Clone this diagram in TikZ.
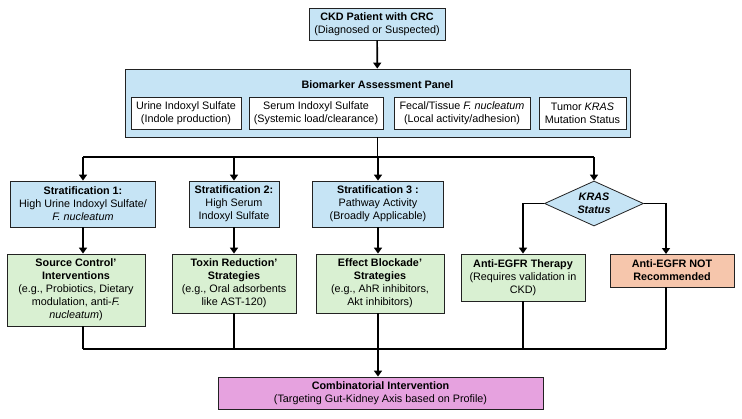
\documentclass[tikz,border=0pt]{standalone}
\usepackage{fontspec}
\setmainfont{Liberation Sans}
\usetikzlibrary{arrows.meta,shapes.geometric}
\definecolor{bluef}{HTML}{C6E4F5}
\definecolor{greenf}{HTML}{D9F0D2}
\definecolor{salmonf}{HTML}{F6C6AC}
\definecolor{pinkf}{HTML}{E6A2DF}
\definecolor{edge}{HTML}{222222}
\begin{document}
\begin{tikzpicture}[x=1pt,y=-1pt,
  box/.style={draw=edge, line width=0.8pt, align=center, inner sep=0pt,
              font=\fontsize{10.8}{13}\selectfont},
  conn/.style={line width=1.7pt, black},
  arr/.style={conn, -{Triangle[length=6pt,width=8pt]}}]
\useasboundingbox[fill=white] (0,0) rectangle (742,418);

% top
\node[box, fill=bluef, minimum width=136pt, minimum height=32pt] (top) at (377,24)
  {\textbf{CKD Patient with CRC}\\(Diagnosed or Suspected)};

% panel
\node[box, fill=bluef, minimum width=505pt, minimum height=68pt] (panel) at (377.5,103) {};
\node[font=\fontsize{10.8}{13}\selectfont\bfseries, inner sep=0pt] (ptitle) at (377.5,85) {Biomarker Assessment Panel};
\node[box, fill=white, minimum width=110pt, minimum height=32pt] (b1) at (186,113)
  {Urine Indoxyl Sulfate\\(Indole production)};
\node[box, fill=white, minimum width=134pt, minimum height=32pt] (b2) at (316,113)
  {Serum Indoxyl Sulfate\\(Systemic load/clearance)};
\node[box, fill=white, minimum width=136pt, minimum height=32pt] (b3) at (462,113)
  {Fecal/Tissue \textit{F. nucleatum}\\(Local activity/adhesion)};
\node[box, fill=white, minimum width=87pt, minimum height=32pt] (b4) at (582.5,113)
  {Tumor \textit{KRAS}\\Mutation Status};

% stratification
\node[box, fill=bluef, minimum width=145pt, minimum height=46pt] (s1) at (83,204)
  {\textbf{Stratification 1:}\\High Urine Indoxyl Sulfate/\\\textit{F. nucleatum}};
\node[box, fill=bluef, minimum width=90pt, minimum height=46pt] (s2) at (234,204)
  {\textbf{Stratification 2:}\\High Serum\\Indoxyl Sulfate};
\node[box, fill=bluef, minimum width=131pt, minimum height=46pt] (s3) at (378,204)
  {\textbf{Stratification 3 :}\\Pathway Activity\\(Broadly Applicable)};
\node[box, diamond, aspect=2.2, fill=bluef, minimum width=99pt, minimum height=45pt] (kras) at (594,203.5)
  {\textbf{\textit{KRAS}}\\\textbf{\textit{Status}}};

% interventions
\node[box, fill=greenf, minimum width=138pt, minimum height=72pt] (g1) at (76,290)
  {\textbf{Source Control'}\\\textbf{Interventions}\\(e.g., Probiotics, Dietary\\modulation, anti-\textit{F.}\\\textit{nucleatum})};
\node[box, fill=greenf, minimum width=124pt, minimum height=59pt] (g2) at (234,283.5)
  {\textbf{Toxin Reduction'}\\\textbf{Strategies}\\(e.g., Oral adsorbents\\like AST-120)};
\node[box, fill=greenf, minimum width=128pt, minimum height=59pt] (g3) at (380,283.5)
  {\textbf{Effect Blockade'}\\\textbf{Strategies}\\(e.g., AhR inhibitors,\\Akt inhibitors)};
\node[box, fill=greenf, minimum width=124pt, minimum height=47pt] (g4) at (523,277.5)
  {\textbf{Anti-EGFR Therapy}\\(Requires validation in\\CKD)};
\node[box, fill=salmonf, minimum width=124pt, minimum height=33pt] (red) at (672,270.5)
  {\textbf{Anti-EGFR NOT}\\\textbf{Recommended}};

% combo
\node[box, fill=pinkf, minimum width=325pt, minimum height=32pt] (combo) at (380.5,393)
  {\textbf{Combinatorial Intervention}\\(Targeting Gut-Kidney Axis based on Profile)};

% connectors
\coordinate (jl) at (83,157);
\coordinate (jr) at (594,157);
\coordinate (rt) at (666,254);
\coordinate (bl) at (83,349);
\coordinate (br) at (666,349);
\coordinate (bm) at (378,349);

\draw[arr] (top) -- (panel);
\draw[conn] (panel.south) -- (panel.south |- jl);
\draw[conn] (jl) -- (jr);
\draw[arr] (jl) -- (s1.north);
\draw[arr] (s2.north |- jl) -- (s2.north);
\draw[arr] (s3.north |- jl) -- (s3.north);
\draw[arr] (jr) -- (kras.north);

\draw[arr] (s1.south) -- (s1.south |- g1.north);
\draw[arr] (s2.south) -- (g2.north);
\draw[arr] (s3.south) -- (s3.south |- g3.north);
\draw[arr] (kras.west) -| (g4.north);
\draw[arr] (kras.east) -| (rt);

\draw[conn] (bl |- g1.south) -- (bl);
\draw[conn] (g2.south) -- (g2.south |- bl);
\draw[conn] (bm |- g3.south) -- (bm);
\draw[conn] (g4.south) -- (g4.south |- bl);
\draw[conn] (br |- red.south) -- (br);
\draw[conn] (bl) -- (br);
\draw[arr] (bm) -- (bm |- combo.north);
\end{tikzpicture}
\end{document}
